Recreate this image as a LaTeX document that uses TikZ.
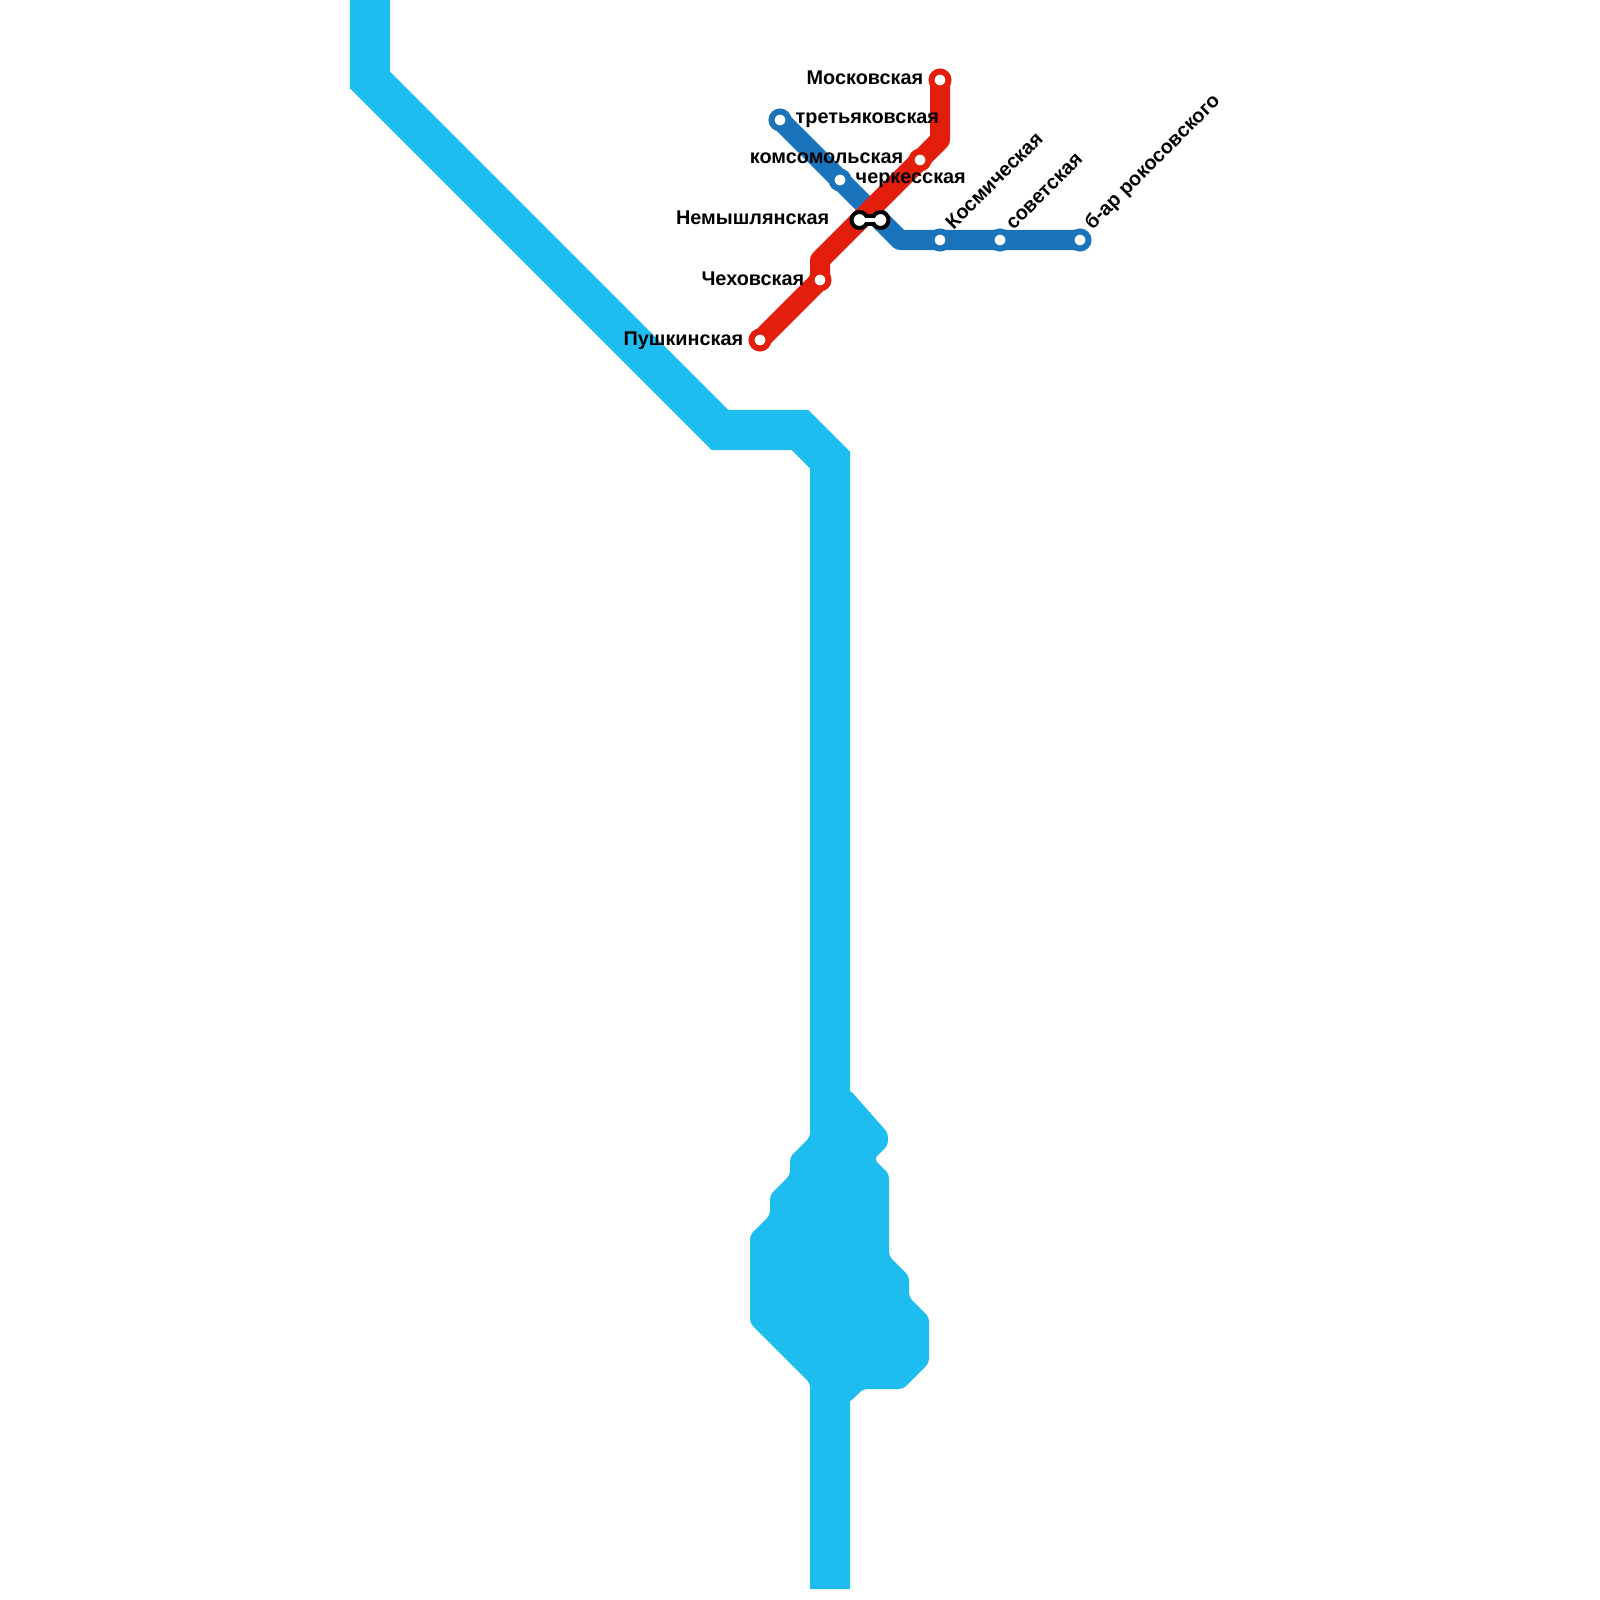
\documentclass[tikz,border=0pt]{standalone}
\usepackage{fontspec}
\setmainfont{Liberation Sans}
\definecolor{ltblue}{HTML}{1DBDEF}
\definecolor{lnblue}{HTML}{1A74BB}
\definecolor{lnred}{HTML}{E31E0C}
\begin{document}
\begin{tikzpicture}[x=0.01cm,y=-0.01cm]

    \tikzset{
      route/.style={
        line width=0.2cm,
        line join=round,
        line cap=round,
      },
      station/.style={
        circle,
        draw=#1,
        fill=white,
        line width=0.06cm,
        minimum size=0.17cm,
        inner sep=0pt,
      },
      xfer/.style={
        circle,
        draw=black,
        fill=white,
        line width=0.04cm,
        minimum size=0.16cm,
        inner sep=0pt,
      },
      lbl/.style={
        font=\bfseries\fontsize{5.65pt}{6.5pt}\selectfont,
        inner sep=0pt,
      },
    }
    \useasboundingbox (0,0) rectangle (1600,1600);

    \coordinate (a0) at (370,-30);
    \coordinate (a1) at (370,80);
    \coordinate (a2) at (720,430);
    \coordinate (a3) at (800,430);
    \coordinate (a4) at (830,460);
    \coordinate (a5) at (830,1589);
    \draw[ltblue,line width=0.4cm] (a0)--(a1)--(a2)--(a3)--(a4)--(a5);
    \fill[ltblue,rounded corners=0.04cm] (850,1090)--(888,1133)--(888,1145)--(874,1159)--(889,1174)--(889,1256)--(909,1276)--(909,1297)--(929,1317)--(929,1363)--(903,1389)--(863,1389)--(850,1402)--(810,1402)--(810,1383)--(750,1323)--(750,1235)--(770,1215)--(770,1195)--(790,1175)--(790,1157)--(810,1137)--(810,1090)--cycle;

    \coordinate (tret) at (780,120);
    \coordinate (cherk) at (840,180);
    \coordinate (nemB) at (880,220);
    \coordinate (b1) at (900,240);
    \coordinate (kosm) at (940,240);
    \coordinate (sov) at (1000,240);
    \coordinate (rok) at (1080,240);
    \draw[route,lnblue] (tret)--(cherk)--(nemB)--(b1)--(kosm)--(sov)--(rok);

    \coordinate (mosk) at (940,80);
    \coordinate (r1) at (940,140);
    \coordinate (koms) at (920,160);
    \coordinate (nemR) at (860,220);
    \coordinate (r2) at (820,260);
    \coordinate (chekh) at (820,280);
    \coordinate (push) at (760,340);
    \draw[route,lnred] (mosk)--(r1)--(koms)--(nemR)--(r2)--(chekh)--(push);

    \node[station=lnred] (moskS) at (mosk) {};
    \node[station=lnred] (komsS) at (koms) {};
    \node[station=lnred] (chekhS) at (chekh) {};
    \node[station=lnred] (pushS) at (push) {};
    \node[station=lnblue] (tretS) at (tret) {};
    \node[station=lnblue] (cherkS) at (cherk) {};
    \node[station=lnblue] (kosmS) at (kosm) {};
    \node[station=lnblue] (sovS) at (sov) {};
    \node[station=lnblue] (rokS) at (rok) {};

    \draw[black,line width=0.11cm] (nemR)--(nemB);
    \node[xfer] (nemRS) at (859.5,220) {};
    \node[xfer] (nemBS) at (880.5,220) {};
    \draw[white,line width=0.035cm] (nemRS.center)--(nemBS.center);

    \node[lbl,anchor=base east] (moskL) at (924,85) {Московская};
    \node[lbl,anchor=base west] (tretL) at (795,124) {третьяковская};
    \node[lbl,anchor=base east] (komsL) at (904,164) {комсомольская};
    \node[lbl,anchor=base west] (cherkL) at (855,184) {черкесская};
    \node[lbl,anchor=base east] (nemL) at (830,225) {Немышлянская};
    \node[lbl,anchor=base east] (chekhL) at (805,285) {Чеховская};
    \node[lbl,anchor=base east] (pushL) at (744,345) {Пушкинская};
    \node[lbl,anchor=base west,rotate=45] (kosmL) at (953,231) {Космическая};
    \node[lbl,anchor=base west,rotate=45] (sovL) at (1013,231) {советская};
    \node[lbl,anchor=base west,rotate=45] (rokL) at (1092,231) {б-ар рокосовского};

\end{tikzpicture}
\end{document}
